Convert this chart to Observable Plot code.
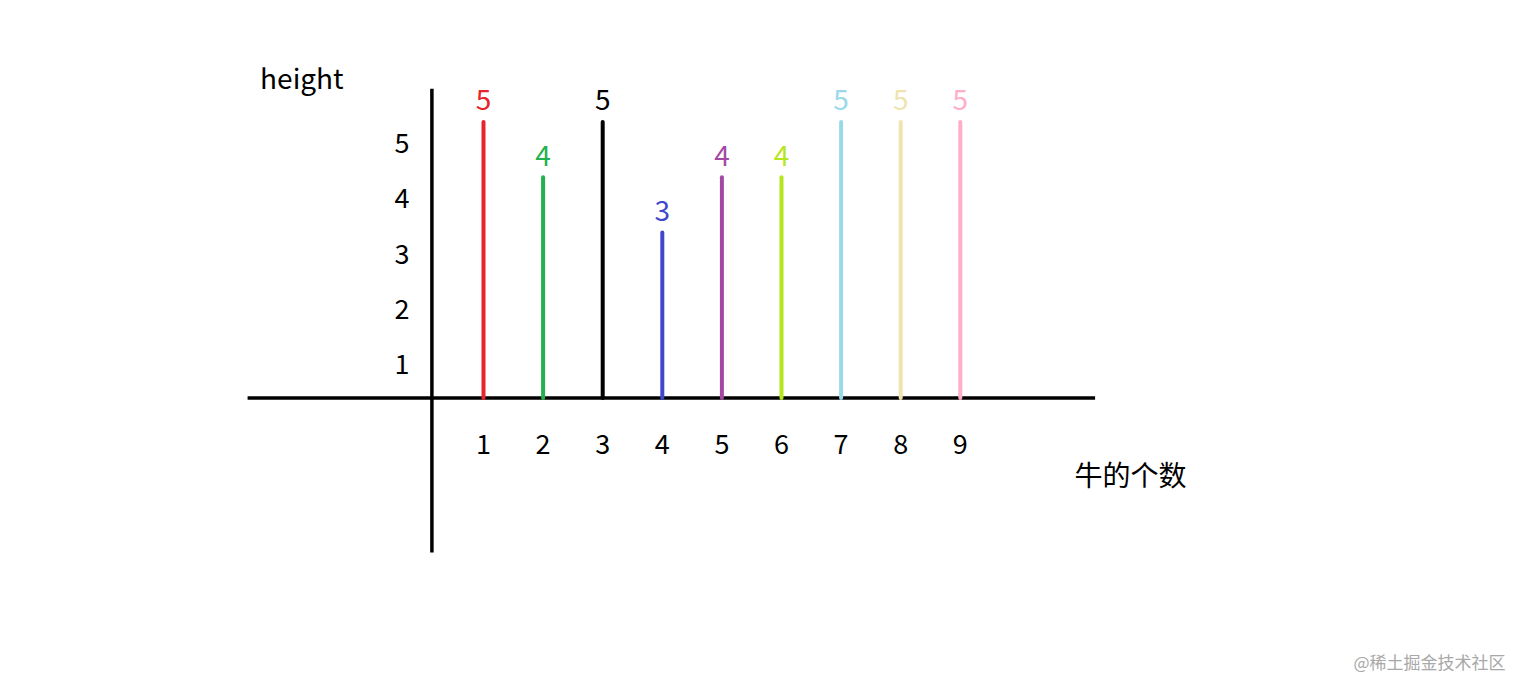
<!DOCTYPE html>
<html>
<head>
<meta charset="utf-8">
<script src="https://cdn.jsdelivr.net/npm/d3@7"></script>
<script src="https://cdn.jsdelivr.net/npm/@observablehq/plot@0.6"></script>
<style>
  html, body { margin: 0; padding: 0; background: #fff; }
  svg { display: block; }
</style>
</head>
<body>
<div id="chart"></div>
<script>
// ---- data ----
const cows = [1, 2, 3, 4, 5, 6, 7, 8, 9];
const heights = [5, 4, 5, 3, 4, 4, 5, 5, 5];
const colors = ["#e8242c", "#22b14c", "#000000", "#3f48cc", "#a349a4", "#b5e61d", "#99d9ea", "#efe4b0", "#ffaec9"];
const yTicks = [1, 2, 3, 4, 5];
const xTicks = [1, 2, 3, 4, 5, 6, 7, 8, 9];
const yLabel = "height";
const xLabel = "牛的个数";
const watermark = "@稀土掘金技术社区";
// axis extents (data units)
const xAxisExtent = [-2.95, 11.27];
const yAxisExtent = [-2.8, 5.6];

const bars = cows.map((c, i) => ({ x: c, h: heights[i], color: colors[i] }));

const font = "'Noto Sans CJK SC', 'Noto Sans', sans-serif";

const chart = Plot.plot({
  width: 1517,
  height: 687,
  margin: 0,
  x: { domain: [-7.104, 18.349], axis: null },
  y: { domain: [-5.236, 7.210], axis: null },
  style: { fontFamily: font, background: "#fff" },
  marks: [
    // x axis line
    Plot.ruleY([0], { x1: xAxisExtent[0], x2: xAxisExtent[1], stroke: "#000", strokeWidth: 3.5, dy: -0.5 }),
    // y axis line
    Plot.ruleX([0], { y1: yAxisExtent[0], y2: yAxisExtent[1], stroke: "#000", strokeWidth: 3.5, dx: 8 }),
    // bars (stems)
    Plot.ruleX(bars, { x: "x", y1: 0, y2: "h", stroke: d => d.color, strokeWidth: 4, strokeLinecap: "round" }),
    // value labels
    Plot.text(bars, { x: "x", y: "h", text: d => String(d.h), fill: d => d.color, fontSize: 28, dy: -21 }),
    // x tick labels
    Plot.text(xTicks, { x: d => d, y: 0, text: d => String(d), fontSize: 27, fill: "#000", dy: 47 }),
    // y tick labels
    Plot.text(yTicks, { x: 0, y: d => d, text: d => String(d), fontSize: 27, fill: "#000", dx: -22, dy: 22 }),
    // axis titles
    Plot.text([yLabel], { x: 0, y: yAxisExtent[1], text: d => d, fontSize: 28, fill: "#000", dx: -122, dy: -9 }),
    Plot.text([xLabel], { x: xAxisExtent[1], y: 0, text: d => d, fontSize: 28, fill: "#000", dx: 35, dy: 79 }),
    // watermark
    Plot.text([watermark], { frameAnchor: "bottom-right", text: d => d, fontSize: 17, fill: "#a8a8a8", textAnchor: "end", dx: -12, dy: -19 })
  ]
});

document.getElementById("chart").appendChild(chart);
</script>
</body>
</html>
